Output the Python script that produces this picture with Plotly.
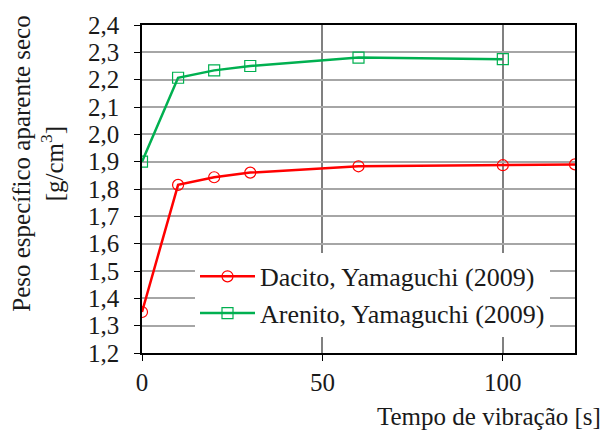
import plotly.graph_objects as go

t_dacito = [0, 10, 20, 30, 60, 100, 120]
v_dacito = [1.35, 1.815, 1.843, 1.86, 1.883, 1.887, 1.89]
t_arenito = [0, 10, 20, 30, 60, 100]
v_arenito = [1.90, 2.207, 2.234, 2.25, 2.281, 2.275]

font = '"Liberation Serif", "Times New Roman", serif'

fig = go.Figure()
fig.add_trace(go.Scatter(x=t_dacito, y=v_dacito, mode="lines+markers",
    name="Dacito, Yamaguchi (2009)",
    line=dict(color="#ff0000", width=2.5),
    marker=dict(symbol="circle-open", size=11, color="#ff0000", line=dict(width=1.2))))
fig.add_trace(go.Scatter(x=t_arenito, y=v_arenito, mode="lines+markers",
    name="Arenito, Yamaguchi (2009)",
    line=dict(color="#00b050", width=2.5),
    marker=dict(symbol="square-open", size=11, color="#00b050", line=dict(width=1.2))))

fig.update_layout(
    width=605, height=431,
    margin=dict(l=142, r=30, t=22, b=78),
    paper_bgcolor="white", plot_bgcolor="white",
    separators=",.",
    font=dict(family=font, size=25, color="#1a1a1a"),
    showlegend=True,
    legend=dict(x=(195 - 142) / 433, y=(353 - 252) / 331, xanchor="left", yanchor="top",
                bgcolor="white", font=dict(size=26, family=font),
                tracegroupgap=0, itemwidth=55),
    xaxis=dict(range=[0, 120], tickvals=[0, 50, 100], showgrid=True,
               gridcolor="#808080", gridwidth=1.5,
               showline=True, linecolor="black", linewidth=1.5, mirror=True,
               ticks="outside", ticklen=6, tickcolor="black", zeroline=False,
               tickfont=dict(size=25, family=font)),
    yaxis=dict(range=[1.2, 2.4], dtick=0.1, tickformat=".1f", showgrid=True,
               gridcolor="#a6a6a6", gridwidth=1.5,
               showline=True, linecolor="black", linewidth=1.5, mirror=True,
               ticks="outside", ticklen=6, tickcolor="black", zeroline=False,
               ticklabelstandoff=10, tickfont=dict(size=25, family=font)),
)

fig.add_annotation(text="Tempo de vibração [s]", xref="paper", yref="paper",
    x=(603 - 142) / 433, y=(353 - 417) / 331, xanchor="right", yanchor="middle",
    showarrow=False, font=dict(size=25, family=font))
fig.add_annotation(text="Peso específico aparente seco<br>[g/cm<sup>3</sup>]",
    xref="paper", yref="paper", x=(38 - 142) / 433, y=(353 - 162) / 331,
    xanchor="center", yanchor="middle",
    textangle=-90, showarrow=False, font=dict(size=25, family=font))

fig.write_html("out.html")
